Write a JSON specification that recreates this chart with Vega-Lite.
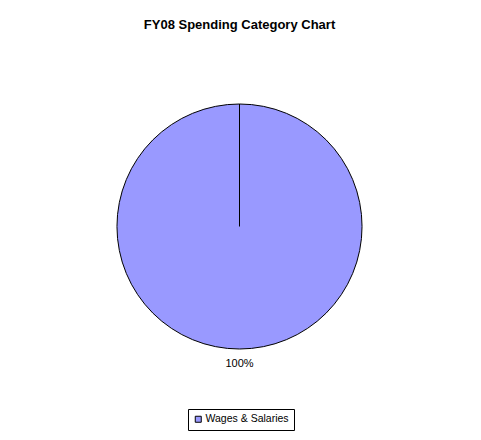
{
  "$schema": "https://vega.github.io/schema/vega-lite/v6.json",
  "width": 245,
  "height": 245,
  "autosize": {"type": "pad"},
  "padding": {"left": 115, "top": 19, "right": 10, "bottom": 5},
  "background": "white",
  "title": {
    "text": "FY08 Spending Category Chart",
    "font": "Liberation Sans",
    "fontSize": 13,
    "fontWeight": "bold",
    "color": "black",
    "anchor": "middle",
    "offset": 70
  },
  "data": {
    "values": [
      {"category": "Wages & Salaries", "share": 1}
    ]
  },
  "layer": [
    {
      "mark": {"type": "arc", "stroke": "black", "strokeWidth": 1},
      "encoding": {
        "theta": {"field": "share", "type": "quantitative", "stack": true},
        "color": {
          "field": "category",
          "type": "nominal",
          "scale": {"range": ["#9999FF"]},
          "legend": {
            "title": null,
            "orient": "none",
            "legendX": 71,
            "legendY": 305,
            "direction": "horizontal",
            "strokeColor": "black",
            "padding": 5,
            "cornerRadius": 0,
            "symbolType": "square",
            "symbolSize": 36,
            "symbolStrokeColor": "black",
            "symbolStrokeWidth": 1,
            "labelFont": "Liberation Sans",
            "labelFontSize": 10.5,
            "labelColor": "black",
            "labelOffset": 2
          }
        }
      }
    },
    {
      "mark": {"type": "text", "radius": 137, "font": "Liberation Sans", "fontSize": 11, "color": "black"},
      "encoding": {
        "theta": {"field": "share", "type": "quantitative", "stack": true},
        "text": {"field": "share", "type": "quantitative", "format": ".0%"}
      }
    },
    {
      "mark": {"type": "rule", "color": "black", "strokeWidth": 1},
      "encoding": {
        "x": {"datum": 0, "type": "quantitative", "scale": {"domain": [-1, 1]}, "axis": null},
        "y": {"datum": 0, "type": "quantitative", "scale": {"domain": [-1, 1]}, "axis": null},
        "y2": {"datum": 1}
      }
    }
  ],
  "config": {
    "view": {"stroke": null}
  }
}
